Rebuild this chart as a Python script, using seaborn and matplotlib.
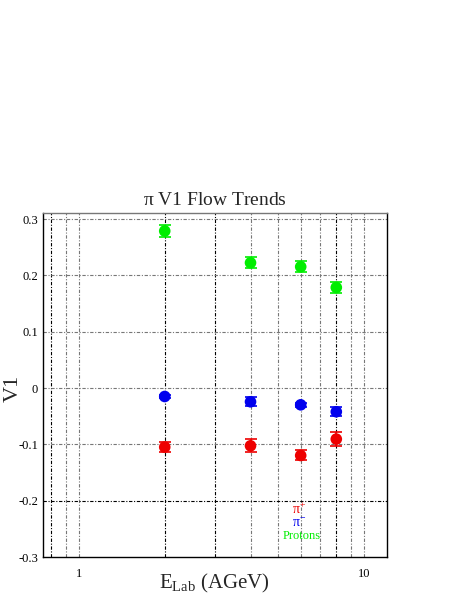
import numpy as np
import pandas as pd
import matplotlib
matplotlib.use("Agg")
import matplotlib.pyplot as plt
from matplotlib.ticker import FixedLocator, NullFormatter, FixedFormatter, MultipleLocator
import seaborn as sns

# ---- data ----
energy = [2, 4, 6, 8]
v1_protons = [0.279, 0.2226, 0.2155, 0.1787]
err_protons = [0.0105, 0.0095, 0.0095, 0.0104]
v1_piminus = [-0.0149, -0.0243, -0.0297, -0.042]
err_piminus = [0.003, 0.0083, 0.004, 0.0083]
v1_piplus = [-0.1048, -0.1025, -0.1197, -0.0906]
err_piplus = [0.0095, 0.0118, 0.0089, 0.0124]

series_names = ["Protons", "pi-", "pi+"]
series_colors = {"Protons": "#00ee00", "pi-": "#0000ee", "pi+": "#ee0000"}

df = pd.concat([
    pd.DataFrame({"E": energy, "V1": v1_protons, "err": err_protons, "s": "Protons"}),
    pd.DataFrame({"E": energy, "V1": v1_piminus, "err": err_piminus, "s": "pi-"}),
    pd.DataFrame({"E": energy, "V1": v1_piplus, "err": err_piplus, "s": "pi+"}),
])

sns.set_style("white")
plt.rcParams["font.family"] = ["Liberation Serif", "DejaVu Serif"]
plt.rcParams["mathtext.fontset"] = "custom"
plt.rcParams["mathtext.rm"] = "Liberation Serif"
plt.rcParams["mathtext.it"] = "Liberation Serif"

fig = plt.figure(figsize=(4.64, 6.0), dpi=100)
ax = fig.add_axes([43/464, 1-557/600, 344/464, 344/600])

ax.set_xscale("log")
ax.set_xlim(0.748, 12.05)
ax.set_ylim(-0.3, 0.311)

# grid
xgrid = [0.8, 0.9, 1, 2, 3, 4, 5, 6, 7, 8, 9, 10]
dark_x = {0.8, 2, 3, 8}
for xv in xgrid:
    ax.axvline(xv, color="black" if xv in dark_x else "#777777",
               lw=0.8, ls=(0, (3, 1.5, 1, 1.5)), zorder=0)
for yv in [-0.2, -0.1, 0, 0.1, 0.2, 0.3]:
    ax.axhline(yv, color="black" if abs(yv + 0.2) < 1e-9 else "#777777",
               lw=0.8, ls=(0, (3, 1.5, 1, 1.5)), zorder=0)

for name in series_names:
    sub = df[df["s"] == name]
    ax.errorbar(sub["E"], sub["V1"], yerr=sub["err"], fmt="none",
                ecolor=series_colors[name], elinewidth=1.2, capsize=4,
                capthick=1.2, zorder=2)

sns.scatterplot(data=df, x="E", y="V1", hue="s", palette=series_colors,
                s=70, edgecolor="none", legend=False, ax=ax, zorder=3)

ax.set_xlabel("")
ax.set_ylabel("")
fig.text(214/464, 1-583/600, r"E$_{\mathrm{Lab}}$ (AGeV)", fontsize=15,
         ha="center", va="center")
fig.text(13/464, 1-388/600, "V1", fontsize=16, rotation=90,
         ha="center", va="center")
ax.set_title(r"$\mathrm{\pi}$ V1 Flow Trends", fontsize=14, pad=6)

ax.xaxis.set_major_locator(FixedLocator([1, 10]))
ax.xaxis.set_major_formatter(FixedFormatter(["1", "10"]))
ax.xaxis.set_minor_locator(FixedLocator([0.8, 0.9, 2, 3, 4, 5, 6, 7, 8, 9]))
ax.xaxis.set_minor_formatter(NullFormatter())
ax.yaxis.set_major_locator(FixedLocator([-0.3, -0.2, -0.1, 0, 0.1, 0.2, 0.3]))
ax.yaxis.set_major_formatter(FixedFormatter(["-0.3", "-0.2", "-0.1", "0", "0.1", "0.2", "0.3"]))
ax.yaxis.set_minor_locator(MultipleLocator(0.02))

ax.tick_params(axis="both", which="both", direction="in", top=False, right=False,
               labelsize=9, colors="black")
ax.tick_params(axis="both", which="major", length=8, width=0.8)
ax.tick_params(axis="both", which="minor", length=4, width=0.8)
ax.tick_params(axis="x", pad=8)

for side in ["left", "bottom", "right"]:
    ax.spines[side].set_color("black")
    ax.spines[side].set_linewidth(1.0)
ax.spines["top"].set_color("#777777")
ax.spines["top"].set_linewidth(1.0)

ax.text(0.744, 0.137, r"$\mathrm{\pi}^{+}$", color="#ee0000", fontsize=10,
        transform=ax.transAxes, ha="center", va="center")
ax.text(0.744, 0.098, r"$\mathrm{\pi}^{-}$", color="#0000ee", fontsize=10,
        transform=ax.transAxes, ha="center", va="center")
ax.text(0.752, 0.061, "Protons", color="#00ee00", fontsize=9,
        transform=ax.transAxes, ha="center", va="center")

fig.savefig("out.png", dpi=100)
